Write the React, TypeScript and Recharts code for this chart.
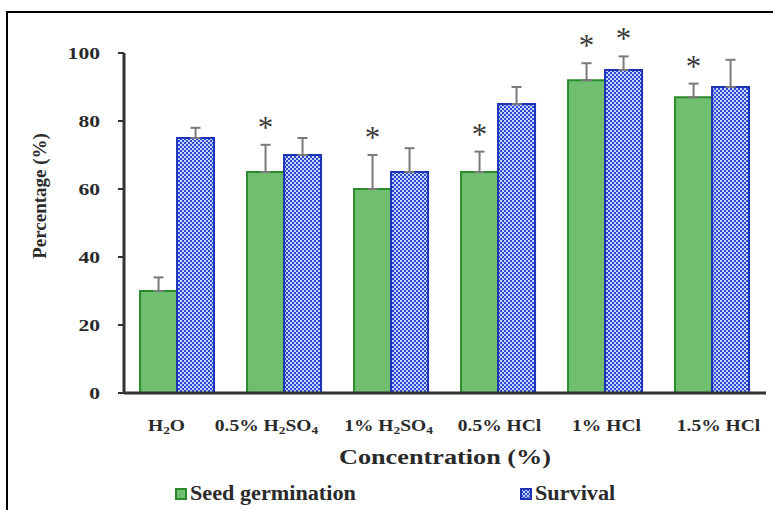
import React from "react"
import { Bar, BarChart, ErrorBar, LabelList, XAxis, YAxis } from "recharts"

// values
const categories = ["H2O", "0.5% H2SO4", "1% H2SO4", "0.5% HCl", "1% HCl", "1.5% HCl"]
const germination = [30, 65, 60, 65, 92, 87]
const germinationErr = [4, 8, 10, 6, 5, 4]
const germinationSig = [false, true, true, true, true, true]
const survival = [75, 70, 65, 85, 95, 90]
const survivalErr = [3, 5, 7, 5, 4, 8]
const survivalSig = [false, false, false, false, true, false]
const yTicks = [0, 20, 40, 60, 80, 100]

const FONT = "'Liberation Serif', 'Times New Roman', serif"
const GREEN = "#6fbf6f"
const GREEN_EDGE = "#2b8a2b"
const BLUE_EDGE = "#1c33b8"
const INK = "#2a2a2a"
// the source image is stretched sideways, so text gets a horizontal scale
const STRETCH = 1.22
// the original tick labels are not quite centred under their groups
const TICK_NUDGE = [-11, -18, -3, 1, 1, 6]

const chartData = categories.map((name, i) => ({
  name,
  germination: germination[i],
  germErr: [0, germinationErr[i]],
  survival: survival[i],
  survErr: [0, survivalErr[i]],
}))

// "H2SO4" -> "H", "2" (sub), "SO", "4" (sub)
function Chem({ text }: { text: string }) {
  const parts = text.split(/(?<=[A-Z])(\d)/)
  return (
    <>
      {parts.map((p, i) =>
        i % 2 === 1 ? (
          <tspan key={i} fontSize={11} baselineShift="-25%">
            {p}
          </tspan>
        ) : p === "" ? null : (
          <tspan key={i}>{p}</tspan>
        ),
      )}
    </>
  )
}

function CategoryTick(props: any) {
  const { x, y, payload, index } = props
  const dx = TICK_NUDGE[index] ?? 0
  return (
    <g transform={`translate(${x + dx},${y + 30}) scale(${STRETCH},1)`}>
      <text x={0} y={0} textAnchor="middle" fontFamily={FONT} fontWeight="bold" fontSize={16} fill={INK}>
        <Chem text={payload.value} />
      </text>
    </g>
  )
}

function ValueTick(props: any) {
  const { x, y, payload } = props
  return (
    <g transform={`translate(${x},${y + 6}) scale(1.27,1)`}>
      <text x={0} y={0} textAnchor="end" fontFamily={FONT} fontWeight="bold" fontSize={17} fill={INK}>
        {payload.value}
      </text>
    </g>
  )
}

function XTitle(props: any) {
  const { viewBox } = props
  const cx = viewBox.x + viewBox.width / 2
  const cy = viewBox.y + viewBox.height + 27
  return (
    <g transform={`translate(${cx},${cy}) scale(1.25,1)`}>
      <text x={0} y={0} textAnchor="middle" fontFamily={FONT} fontWeight="bold" fontSize={21} fill={INK}>
        Concentration (%)
      </text>
    </g>
  )
}

function YTitle(props: any) {
  const { viewBox } = props
  const cx = viewBox.x - 18
  const cy = viewBox.y + viewBox.height / 2 - 27
  return (
    <text
      x={cx}
      y={cy}
      transform={`rotate(-90, ${cx}, ${cy})`}
      textAnchor="middle"
      fontFamily={FONT}
      fontWeight="bold"
      fontSize={19}
      fill={INK}
    >
      Percentage (%)
    </text>
  )
}

function starLabel(errs: number[], sig: boolean[], values: number[]) {
  return (props: any) => {
    const { x, y, width, height, index } = props
    if (!sig[index]) return null
    const pxPerUnit = height / values[index]
    const top = y - errs[index] * pxPerUnit
    return (
      <text x={x + width / 2} y={top - 7} textAnchor="middle" fontFamily={FONT} fontSize={31} fill="#3a3a3a">
        *
      </text>
    )
  }
}

function LegendItem({ left, swatch, label }: { left: number; swatch: React.ReactNode; label: string }) {
  return (
    <div style={{ position: "absolute", left, top: 482, display: "flex", alignItems: "center" }}>
      <svg width={14} height={14} style={{ marginRight: 2 }}>
        {swatch}
      </svg>
      <span
        style={{
          fontFamily: FONT,
          fontWeight: "bold",
          fontSize: 20,
          color: INK,
          display: "inline-block",
          transform: "scaleX(1.11)",
          transformOrigin: "left center",
          whiteSpace: "nowrap",
        }}
      >
        {label}
      </span>
    </div>
  )
}

export default function App() {
  return (
    <div style={{ position: "absolute", left: 0, top: 0, width: 773, height: 510, background: "#fff", overflow: "hidden" }}>
      <div
        style={{
          position: "absolute",
          left: 6,
          top: 11,
          width: 800,
          height: 600,
          borderTop: "2px solid #000",
          borderLeft: "2px solid #000",
        }}
      />
      <BarChart
        width={773}
        height={510}
        data={chartData}
        margin={{ top: 53, right: 7, left: 64, bottom: 73 }}
        barCategoryGap="15%"
        barGap={0}
      >
        <defs>
          <pattern id="checker" width={4} height={4} patternUnits="userSpaceOnUse">
            <rect width={4} height={4} fill="#2a48d2" />
            <rect x={0} y={0} width={2} height={2} fill="#c9d5ff" />
            <rect x={2} y={2} width={2} height={2} fill="#c9d5ff" />
          </pattern>
        </defs>
        <XAxis
          dataKey="name"
          tick={<CategoryTick />}
          tickLine={false}
          axisLine={{ stroke: "#333", strokeWidth: 3 }}
          height={44}
          interval={0}
          label={<XTitle />}
        />
        <YAxis
          domain={[0, 100]}
          ticks={yTicks}
          width={60}
          tickSize={6}
          tickMargin={18}
          axisLine={{ stroke: "#333", strokeWidth: 3 }}
          tickLine={{ stroke: "#333", strokeWidth: 2 }}
          tick={<ValueTick />}
          label={<YTitle />}
        />
        <Bar dataKey="germination" name="Seed germination" fill={GREEN} stroke={GREEN_EDGE} strokeWidth={2} isAnimationActive={false}>
          <ErrorBar dataKey="germErr" direction="y" width={5} stroke="#7a7a7a" strokeWidth={2} />
          <LabelList dataKey="germination" content={starLabel(germinationErr, germinationSig, germination)} />
        </Bar>
        <Bar dataKey="survival" name="Survival" fill="url(#checker)" stroke={BLUE_EDGE} strokeWidth={2} isAnimationActive={false}>
          <ErrorBar dataKey="survErr" direction="y" width={5} stroke="#7a7a7a" strokeWidth={2} />
          <LabelList dataKey="survival" content={starLabel(survivalErr, survivalSig, survival)} />
        </Bar>
      </BarChart>
      <LegendItem
        left={174}
        label="Seed germination"
        swatch={<rect x={2} y={2} width={10} height={10} fill={GREEN} stroke={GREEN_EDGE} strokeWidth={2} />}
      />
      <LegendItem
        left={519}
        label="Survival"
        swatch={<rect x={2} y={2} width={10} height={10} fill="url(#checker)" stroke={BLUE_EDGE} strokeWidth={2} />}
      />
    </div>
  )
}
